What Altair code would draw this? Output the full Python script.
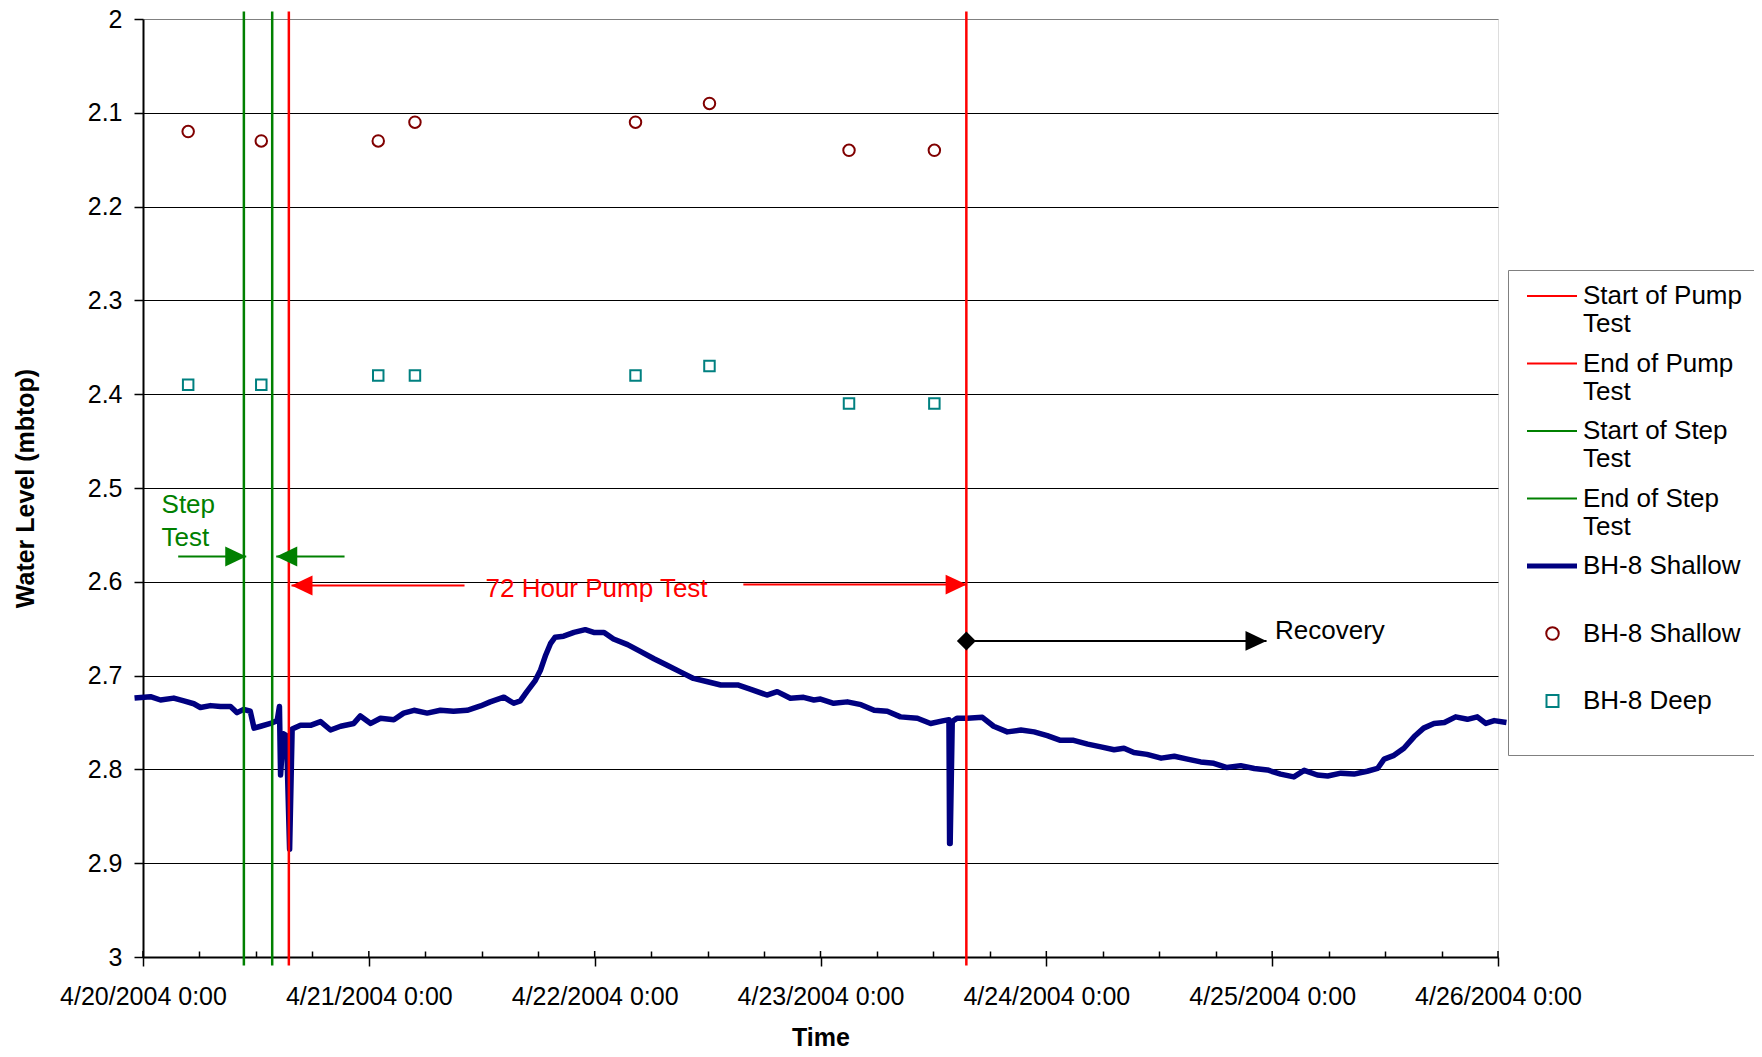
import altair as alt
import pandas as pd

START = pd.Timestamp("2004-04-20 00:00")

# Continuous logger record, BH-8 Shallow (hours after 4/20/2004 0:00, water level mbtop)
logger_hours = [
    -0.9, 0.8, 1.86, 3.27, 4.34, 5.4, 6.1, 7.17, 8.24, 9.3,
    10.0, 10.7, 11.4, 11.8, 12.5, 13.55, 14.26, 14.5, 14.62, 14.9,
    15.25, 15.58, 15.85, 16.74, 17.8, 18.87, 19.93, 21.0, 22.4, 23.1,
    24.2, 25.24, 26.66, 27.7, 28.8, 30.2, 31.6, 33.0, 34.45, 35.87,
    36.9, 38.35, 39.4, 40.1, 40.8, 41.7, 42.25, 42.8, 43.3, 43.8,
    44.7, 45.8, 47.0, 47.9, 49.0, 50.0, 51.5, 52.9, 54.3, 55.7,
    57.1, 58.5, 60.0, 61.4, 63.2, 64.6, 66.3, 67.4, 68.8, 70.2,
    71.3, 72.0, 73.4, 74.85, 76.3, 77.7, 79.1, 80.5, 82.3, 83.7,
    85.1, 85.65, 85.72, 85.78, 86.0, 86.5, 87.6, 89.2, 90.4, 91.85,
    93.3, 94.7, 96.1, 97.5, 98.9, 100.4, 101.8, 103.2, 104.25, 105.3,
    106.7, 108.2, 109.6, 111.0, 112.4, 113.8, 115.2, 116.65, 118.1, 119.5,
    120.9, 122.3, 123.4, 124.8, 125.9, 127.3, 128.7, 130.1, 131.2, 131.9,
    132.95, 134.0, 135.1, 136.1, 137.2, 138.3, 139.5, 140.75, 141.8, 142.7,
    143.6, 144.9,
]
logger_level = [
    2.724, 2.7225, 2.726, 2.724, 2.727, 2.730, 2.734, 2.732, 2.733, 2.733,
    2.7395, 2.736, 2.738, 2.756, 2.754, 2.751, 2.748, 2.733, 2.806, 2.762,
    2.764, 2.885, 2.757, 2.753, 2.753, 2.749, 2.758, 2.754, 2.751, 2.743,
    2.751, 2.7455, 2.747, 2.740, 2.737, 2.740, 2.737, 2.738, 2.737, 2.7324,
    2.728, 2.723, 2.7295, 2.727, 2.717, 2.705, 2.694, 2.678, 2.666, 2.659,
    2.658, 2.654, 2.651, 2.654, 2.654, 2.661, 2.667, 2.6745, 2.682, 2.689,
    2.696, 2.703, 2.7065, 2.710, 2.710, 2.7146, 2.7207, 2.7171, 2.7242, 2.7232,
    2.726, 2.725, 2.7295, 2.728, 2.731, 2.737, 2.738, 2.744, 2.7455, 2.751,
    2.748, 2.747, 2.879, 2.879, 2.749, 2.7455, 2.7455, 2.7445, 2.754, 2.760,
    2.758, 2.760, 2.764, 2.769, 2.769, 2.773, 2.776, 2.779, 2.7775, 2.782,
    2.784, 2.788, 2.786, 2.789, 2.792, 2.7935, 2.798, 2.796, 2.799, 2.8006,
    2.805, 2.808, 2.801, 2.806, 2.807, 2.804, 2.805, 2.802, 2.799, 2.789,
    2.785, 2.7775, 2.765, 2.756, 2.751, 2.750, 2.744, 2.7466, 2.744, 2.751,
    2.748, 2.750,
]
assert len(logger_hours) == len(logger_level)

# Manual dip readings
manual_hours = [4.80, 12.57, 25.0, 28.9, 52.34, 60.2, 75.03, 84.1]
manual_shallow = [2.12, 2.13, 2.13, 2.11, 2.11, 2.09, 2.14, 2.14]
manual_deep = [2.39, 2.39, 2.38, 2.38, 2.38, 2.37, 2.41, 2.41]

# Test event markers
event_keys = ["Start of Pump|Test", "End of Pump|Test", "Start of Step|Test", "End of Step|Test"]
event_hours = [15.5, 87.5, 10.72, 13.73]
event_top = [1.992] * 4
event_bottom = [3.009] * 4

# Legend entries ('|' marks a line break)
legend_keys = ["Start of Pump|Test", "End of Pump|Test", "Start of Step|Test", "End of Step|Test",
               "BH-8 Shallow|", "BH-8 Shallow| ", "BH-8 Deep|"]
legend_colors = ["#FF0000", "#FF0000", "#008000", "#008000", "#000080", "#800000", "#008080"]

# Annotation arrows
arrow_tail_hours = [3.74, 21.42, 34.17, 63.8, 87.5]
arrow_tip_hours = [10.97, 14.16, 15.78, 87.53, 119.4]
arrow_level = [2.573, 2.573, 2.604, 2.603, 2.663]
arrow_color = ["#008000", "#008000", "#FF0000", "#FF0000", "#000000"]
arrow_dir = ["right", "left", "left", "right", "right"]

recovery_hours = [87.5]
recovery_level = [2.663]

note_text = ["Step", "Test", "72 Hour Pump Test", "Recovery"]
note_hours = [1.97, 1.97, 36.4, 120.3]
note_level = [2.5267, 2.5618, 2.6158, 2.661]
note_color = ["#008000", "#008000", "#FF0000", "#000000"]

y_ticks = [2.0, 2.1, 2.2, 2.3, 2.4, 2.5, 2.6, 2.7, 2.8, 2.9, 3.0]
x_tick_hours = list(range(0, 145, 6))
x_day_hours = list(range(0, 145, 24))


def at(hours):
    return [START + pd.Timedelta(hours=h) for h in hours]


logger_df = pd.DataFrame({"time": at(logger_hours), "level": logger_level, "key": "BH-8 Shallow|"})
shallow_df = pd.DataFrame({"time": at(manual_hours), "level": manual_shallow, "key": "BH-8 Shallow| "})
deep_df = pd.DataFrame({"time": at(manual_hours), "level": manual_deep, "key": "BH-8 Deep|"})
event_df = pd.DataFrame({"time": at(event_hours), "level": event_top, "level2": event_bottom, "key": event_keys})
arrow_df = pd.DataFrame({"time": at(arrow_tail_hours), "time2": at(arrow_tip_hours), "level": arrow_level,
                         "c": arrow_color, "dir": arrow_dir})
head_df = pd.DataFrame({"time": at(arrow_tip_hours), "level": arrow_level, "c": arrow_color, "dir": arrow_dir})
recovery_df = pd.DataFrame({"time": at(recovery_hours), "level": recovery_level})
note_df = pd.DataFrame({"time": at(note_hours), "level": note_level, "text": note_text, "c": note_color})
day_tick_df = pd.DataFrame({"time": at(x_day_hours)})

FONT = "Liberation Sans"

x_scale = alt.Scale(domain=[alt.DateTime(year=2004, month=4, date=20, hours=0),
                            alt.DateTime(year=2004, month=4, date=26, hours=0)], nice=False)
y_scale = alt.Scale(domain=[2.0, 3.0], reverse=True, nice=False, zero=False)

x_axis = alt.Axis(
    values=[alt.DateTime(year=2004, month=4, date=20 + h // 24, hours=h % 24) for h in x_tick_hours],
    labelExpr="hours(datum.value) === 0 ? timeFormat(datum.value, '%-m/%-d/%Y %-H:%M') : ''",
    labelFont=FONT, labelFontSize=25, labelColor="black",
    labelPadding=18, labelOverlap=False, labelFlush=False, labelBaseline="top",
    tickSize={"expr": "hours(datum.value) === 0 ? 9 : -6"}, tickColor="black", tickWidth=1.5,
    domainColor="black", domainWidth=2, grid=False,
    titleFont=FONT, titleFontSize=25, titleFontWeight="bold", titleColor="black",
    titleY=88, titleBaseline="alphabetic",
)
y_axis = alt.Axis(
    values=y_ticks, format="~g",
    labelFont=FONT, labelFontSize=25, labelColor="black", labelPadding=12,
    tickSize=9, tickColor="black", tickWidth=1.5,
    domainColor="black", domainWidth=2,
    grid=True, gridWidth=1,
    gridColor={"condition": {"test": "datum.value === 2", "value": "#808080"}, "value": "#000000"},
    titleFont=FONT, titleFontSize=25, titleFontWeight="bold", titleColor="black",
    titleX=-118, titleY=469, titleAlign="center", titleBaseline="middle",
)

X = lambda f="time": alt.X(f"{f}:T", scale=x_scale, axis=x_axis, title="Time")
Y = lambda f="level": alt.Y(f"{f}:Q", scale=y_scale, axis=y_axis, title="Water Level (mbtop)")

# legend symbol paths (unit = 25 px), placed where the original legend has them
LINE_SYM = "M-0.76,0L1.24,0"
CIRCLE_SYM = "M0.51,0A0.25,0.25 0 1,1 0.01,0A0.25,0.25 0 1,1 0.51,0Z"
SQUARE_SYM = "M0.02,-0.24L0.50,-0.24L0.50,0.24L0.02,0.24Z"
symbol_expr = ("datum.value === 'BH-8 Shallow| ' ? '%s' : datum.value === 'BH-8 Deep|' ? '%s' : '%s'"
               % (CIRCLE_SYM, SQUARE_SYM, LINE_SYM))
label_expr = "split(datum.label, '|')"

# the wide inner padding makes the legend frame run past the right edge, as in the original
legend = alt.Legend(
    title=None, orient="none", legendX=1365, legendY=251,
    labelExpr=label_expr,
    labelFont=FONT, labelFontSize=26, labelColor="black", labelLimit=900,
    labelOffset=24, labelBaseline="middle",
    symbolType={"expr": symbol_expr}, symbolSize=2500,
    symbolStrokeWidth={"expr": "datum.value === 'BH-8 Shallow|' ? 5 : 2"},
    symbolFillColor="transparent", symbolOpacity=1, symbolOffset=12,
    fillColor="white", strokeColor="#808080", padding=13, rowPadding=13.5,
)
color = alt.Color("key:N", scale=alt.Scale(domain=legend_keys, range=legend_colors), legend=legend)

line = alt.Chart(logger_df).mark_line(strokeWidth=5.5, clip=False, strokeJoin="round").encode(
    x=X(), y=Y(), color=color)

circles = alt.Chart(shallow_df).mark_point(shape="circle", filled=False, size=132, strokeWidth=2,
                                           opacity=1).encode(x=X(), y=Y(), color=color)
squares = alt.Chart(deep_df).mark_point(shape="square", filled=False, size=110, strokeWidth=2,
                                        opacity=1).encode(x=X(), y=Y(), color=color)

events = alt.Chart(event_df).mark_rule(strokeWidth=2.5, clip=False).encode(
    x=X(), y=Y(), y2="level2:Q", color=color)

arrows = alt.Chart(arrow_df).mark_rule(strokeWidth=2).encode(
    x=X(), x2="time2:T", y=Y(), color=alt.Color("c:N", scale=None))

heads_r = alt.Chart(head_df).transform_filter("datum.dir === 'right'").mark_point(
    shape="M0,0L-2,-0.95L-2,0.95Z", size=441, filled=True, opacity=1).encode(
    x=X(), y=Y(), color=alt.Color("c:N", scale=None))
heads_l = alt.Chart(head_df).transform_filter("datum.dir === 'left'").mark_point(
    shape="M0,0L2,-0.95L2,0.95Z", size=441, filled=True, opacity=1).encode(
    x=X(), y=Y(), color=alt.Color("c:N", scale=None))

diamond = alt.Chart(recovery_df).mark_point(shape="diamond", size=361, filled=True, opacity=1,
                                             color="black").encode(x=X(), y=Y())

notes = alt.Chart(note_df).mark_text(align="left", baseline="alphabetic", font=FONT, fontSize=26).encode(
    x=X(), y=Y(), text="text:N", color=alt.Color("c:N", scale=None))

# inner half of the day ticks (the day ticks cross the axis line)
day_stubs = alt.Chart(day_tick_df).mark_rule(strokeWidth=1.5, color="black").encode(
    x=X(), y=alt.value(938), y2=alt.value(932))

chart = alt.layer(line, events, circles, squares, arrows, heads_r, heads_l, diamond, notes,
                  day_stubs).properties(
    width=1355, height=938,
    padding={"left": 135, "top": 11, "right": 256, "bottom": 92},
    autosize=alt.AutoSizeParams(type="none"),
).configure_view(stroke="#808080", strokeWidth=2).configure(font=FONT)

chart.save("out.html", embed_options={"renderer": "svg", "actions": False})
